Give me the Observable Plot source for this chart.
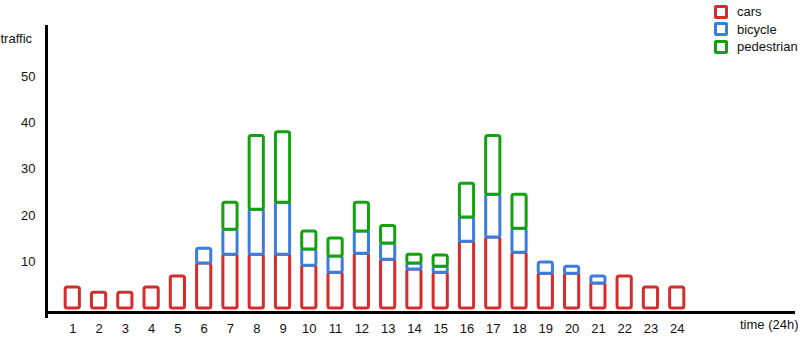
<!DOCTYPE html>
<html><head><meta charset="utf-8">
<script src="https://cdn.jsdelivr.net/npm/d3@7"></script>
<script src="https://cdn.jsdelivr.net/npm/@observablehq/plot@0.6"></script>
<style>
body{margin:0;background:#fff;}
#wrap{position:relative;width:801px;height:354px;font-family:"Liberation Sans",Arial,sans-serif;}
.legend{position:absolute;left:714px;top:3px;font-size:13px;color:#111;}
.item{display:flex;align-items:center;height:17.5px;}
.sw{width:8px;height:8px;border:3px solid;border-radius:2px;margin-right:9px;}
</style></head><body><div id="wrap"></div>
<script>
const hours = [1,2,3,4,5,6,7,8,9,10,11,12,13,14,15,16,17,18,19,20,21,22,23,24];
const series = ["cars", "bicycle", "pedestrian"];
const colors = ["#d62c2c", "#3b7ddd", "#13a10e"];
const cars =       [4.5,3.4,3.4,4.5,6.9,9.7,11.6,11.6,11.6,9.2,7.7,11.8,10.5,8.4,7.7,14.4,15.3,12.0,7.5,7.5,5.4,6.9,4.5,4.5];
const bicycle =    [0,0,0,0,0,3.2,5.4,9.7,11.2,3.5,3.5,4.8,3.5,1.3,1.3,5.2,9.2,5.2,2.4,1.5,1.5,0,0,0];
const pedestrian = [0,0,0,0,0,0,5.8,15.9,15.2,3.9,3.9,6.2,3.8,1.9,2.4,7.3,12.7,7.3,0,0,0,0,0,0];
const yTicks = [10,20,30,40,50];
const yLabel = "traffic";
const xLabel = "time (24h)";

const values = [cars, bicycle, pedestrian];
const data = [];
series.forEach((s, i) => hours.forEach((h, j) => data.push({hour: h, type: s, value: values[i][j]})));

const halfWidth = 0.27;
const chart = Plot.plot({
  width: 801, height: 354,
  marginTop: 25, marginBottom: 36, marginLeft: 46, marginRight: 6,
  style: {fontFamily: '"Liberation Sans", Arial, sans-serif', fontSize: "13px", color: "#111", background: "transparent"},
  x: {domain: [0, 28.5], range: [46, 795]},
  y: {domain: [0, 61], range: [308, 25]},
  color: {domain: series, range: colors},
  marks: [
    Plot.rectY(data, Plot.stackY({
      filter: d => d.value > 0,
      x1: d => d.hour - halfWidth, x2: d => d.hour + halfWidth,
      y: "value", z: "type", order: series,
      stroke: "type", fill: "white", strokeWidth: 3, rx: 2
    })),
    Plot.ruleX([0], {stroke: "#000", strokeWidth: 3}),
    Plot.ruleY([0], {stroke: "#000", strokeWidth: 3, dy: 4}),
    Plot.axisX({ticks: hours, tickSize: 0, tickPadding: 5, tickFormat: d => String(d), label: null, fontSize: 13}),
    Plot.axisY({ticks: yTicks, tickSize: 0, tickPadding: 11, label: null, fontSize: 13}),
    Plot.text([yLabel], {frameAnchor: "top-left", textAnchor: "start", dx: -46, dy: 8, fontSize: 13}),
    Plot.text([xLabel], {frameAnchor: "bottom-right", textAnchor: "end", dx: 3, dy: 10, fontSize: 13})
  ]
});
const wrap = document.getElementById("wrap");
wrap.appendChild(chart);
const legend = document.createElement("div");
legend.className = "legend";
series.forEach((s, i) => {
  const it = document.createElement("div"); it.className = "item";
  const sw = document.createElement("span"); sw.className = "sw"; sw.style.borderColor = colors[i];
  const t = document.createElement("span"); t.textContent = s;
  it.appendChild(sw); it.appendChild(t); legend.appendChild(it);
});
wrap.appendChild(legend);
chart.style.position = "absolute"; chart.style.left = "0"; chart.style.top = "0";
</script></body></html>
